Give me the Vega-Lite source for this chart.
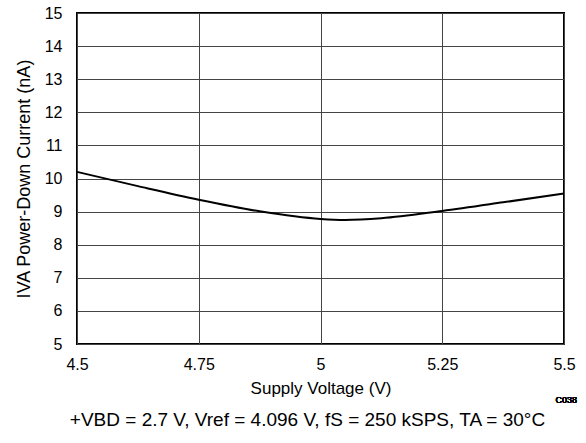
{
  "$schema": "https://vega.github.io/schema/vega-lite/v6.json",
  "width": 487,
  "height": 331,
  "autosize": {"type": "none"},
  "padding": {"left": 77, "top": 13, "right": 22, "bottom": 99},
  "background": "white",
  "config": {
    "font": "Liberation Sans",
    "view": {"stroke": "black", "strokeWidth": 2},
    "axisX": {"values": [4.5, 4.75, 5, 5.25, 5.5], "labelExpr": "format(datum.value, '~g')", "title": "Supply Voltage (V)", "labelPadding": 12, "titlePadding": 8, "labelFlush": false},
    "axisY": {"values": [5, 6, 7, 8, 9, 10, 11, 12, 13, 14, 15], "labelExpr": "format(datum.value, '~g')", "title": "IVA Power-Down Current (nA)", "labelPadding": 15, "titlePadding": 11, "titleFontSize": 18},
    "axis": {"labelFont": "Liberation Sans", "titleFont": "Liberation Sans", "labelColor": "black", "titleColor": "black", "titleFontWeight": "normal", "gridColor": "#444", "gridWidth": 1, "gridOpacity": 1, "domain": false, "ticks": false, "labelFontSize": 16, "titleFontSize": 17, "labelOverlap": false}
  },
  "title": {"text": "+VBD = 2.7 V, Vref = 4.096 V, fS = 250 kSPS, TA = 30°C", "orient": "bottom", "anchor": "middle", "fontSize": 19, "fontWeight": "normal", "font": "Liberation Sans", "color": "black", "offset": 6, "dx": -13},
  "data": {"values": [
    {"v": 4.5, "i": 10.2},
    {"v": 4.625, "i": 9.77},
    {"v": 4.75, "i": 9.36},
    {"v": 4.875, "i": 9.01},
    {"v": 5.0, "i": 8.78},
    {"v": 5.05, "i": 8.75},
    {"v": 5.125, "i": 8.8},
    {"v": 5.25, "i": 9.02},
    {"v": 5.375, "i": 9.28},
    {"v": 5.5, "i": 9.55}
  ]},
  "layer": [
    {
      "mark": {"type": "line", "color": "black", "strokeWidth": 2, "interpolate": "monotone"},
      "encoding": {
        "x": {"field": "v", "type": "quantitative", "scale": {"domain": [4.5, 5.5], "nice": false, "zero": false}, "axis": {"title": "Supply Voltage (V)", "values": [4.5, 4.75, 5, 5.25, 5.5], "labelFontSize": 16, "labelOverlap": false}},
        "y": {"field": "i", "type": "quantitative", "scale": {"domain": [5, 15], "nice": false, "zero": false}, "axis": {"title": "IVA Power-Down Current (nA)", "values": [5, 6, 7, 8, 9, 10, 11, 12, 13, 14, 15], "labelFontSize": 16, "labelOverlap": false}}
      }
    },
    {
      "mark": {"type": "text", "text": "C038", "fontSize": 9, "align": "right", "baseline": "middle", "dx": 13, "color": "black"},
      "encoding": {
        "x": {"datum": 5.5, "type": "quantitative", "axis": {"title": "Supply Voltage (V)", "values": [4.5, 4.75, 5, 5.25, 5.5], "labelFontSize": 16, "labelOverlap": false}},
        "y": {"datum": 3.3, "type": "quantitative", "axis": {"title": "IVA Power-Down Current (nA)", "values": [5, 6, 7, 8, 9, 10, 11, 12, 13, 14, 15], "labelFontSize": 16, "labelOverlap": false}}
      }
    }
  ]
}
